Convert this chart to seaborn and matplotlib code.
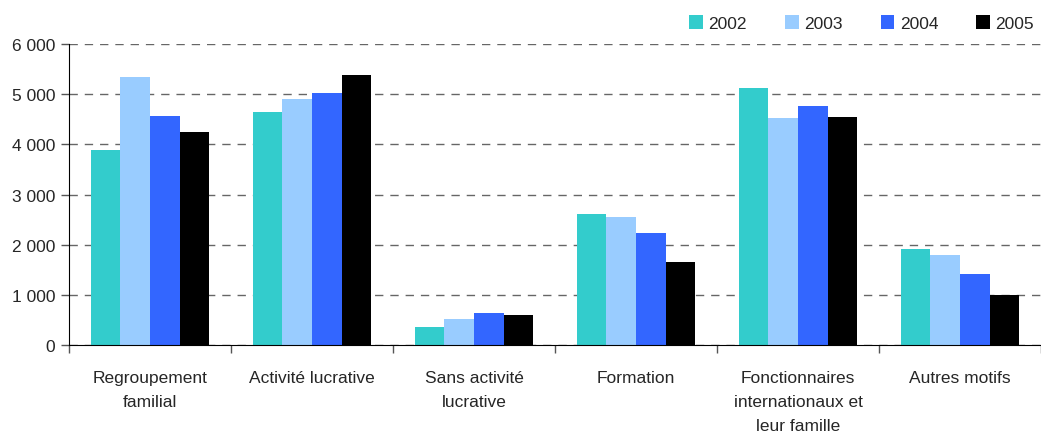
import pandas as pd
import seaborn as sns
import matplotlib.pyplot as plt
from matplotlib.ticker import FuncFormatter, FixedLocator

# données
motifs = ['Regroupement\nfamilial', 'Activité lucrative', 'Sans activité\nlucrative',
          'Formation', 'Fonctionnaires\ninternationaux et\nleur famille', 'Autres motifs']
annees = ['2002', '2003', '2004', '2005']
v2002 = [3890, 4650, 360, 2610, 5130, 1910]
v2003 = [5345, 4910, 520, 2550, 4530, 1790]
v2004 = [4565, 5030, 640, 2230, 4770, 1410]
v2005 = [4245, 5390, 600, 1650, 4550, 990]
couleurs = ['#33CCCC', '#99CCFF', '#3366FF', '#000000']

df = pd.DataFrame({
    'motif': motifs * 4,
    'annee': [a for a in annees for _ in motifs],
    'valeur': v2002 + v2003 + v2004 + v2005,
})

sns.set_style('white')
plt.rcParams['font.family'] = ['Liberation Sans', 'DejaVu Sans']

fig = plt.figure(figsize=(10.41, 4.39), dpi=100)
ax = fig.add_axes([69 / 1041, 93 / 439, 972 / 1041, 301 / 439])

sns.barplot(data=df, x='motif', y='valeur', hue='annee', palette=couleurs,
            width=0.73, saturation=1, linewidth=0, ax=ax, order=motifs, hue_order=annees)

ax.set_ylim(0, 6000)
ax.set_xlim(-0.5, 5.5)
ax.set_yticks(range(0, 6001, 1000))
ax.yaxis.set_major_formatter(FuncFormatter(lambda v, p: '{:,.0f}'.format(v).replace(',', ' ')))
ax.yaxis.grid(True, linestyle=(0, (6, 5)), color='#666666', linewidth=1)
ax.set_axisbelow(True)

ax.xaxis.set_minor_locator(FixedLocator([i - 0.5 for i in range(7)]))
ax.tick_params(axis='x', which='major', length=0, pad=18, labelsize=12.5)
ax.tick_params(axis='x', which='minor', length=6, width=1, color='#555555', bottom=True)
ax.tick_params(axis='y', length=6, width=1, color='#555555', labelsize=12.5, left=True, pad=4)
for lab in ax.get_xticklabels():
    lab.set_linespacing(1.75)
    lab.set_verticalalignment('top')

for s in ['top', 'right']:
    ax.spines[s].set_visible(False)
ax.spines['left'].set_color('#000000')
ax.spines['bottom'].set_color('#000000')
ax.set_xlabel('')
ax.set_ylabel('')

ax.legend(loc='lower right', bbox_to_anchor=(1.0, 1.02), ncol=4, frameon=False,
          fontsize=12.5, handlelength=0.8, handleheight=0.8, columnspacing=2.2,
          handletextpad=0.3, borderaxespad=0)

fig.savefig('out.png', dpi=100)
